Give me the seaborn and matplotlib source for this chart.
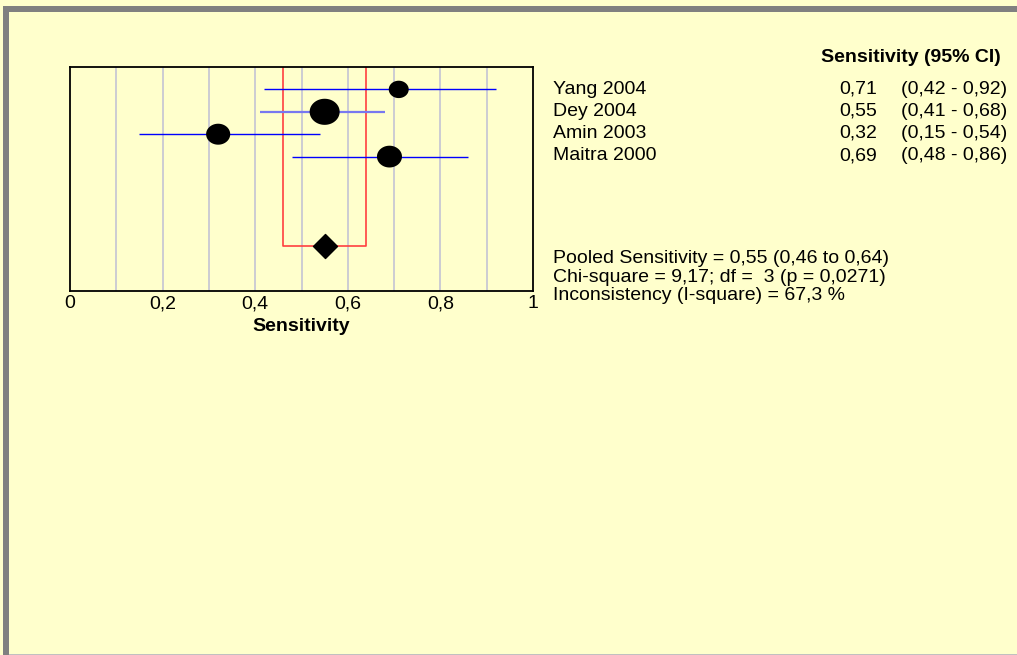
import matplotlib
matplotlib.use("Agg")
import matplotlib.pyplot as plt
import seaborn as sns
import pandas as pd
import numpy as np
from matplotlib.patches import Rectangle
from matplotlib.path import Path

# ---- data ----
studies = ["Yang 2004", "Dey 2004", "Amin 2003", "Maitra 2000"]
sens = [0.71, 0.55, 0.32, 0.69]
ci_low = [0.42, 0.41, 0.15, 0.48]
ci_high = [0.92, 0.68, 0.54, 0.86]
weights = [18, 40, 26, 28]
pooled = 0.55
pooled_low = 0.46
pooled_high = 0.64
stats_lines = ["Pooled Sensitivity = 0,55 (0,46 to 0,64)",
               "Chi-square = 9,17; df =  3 (p = 0,0271)",
               "Inconsistency (I-square) = 67,3 %"]
xticks = [0, 0.2, 0.4, 0.6, 0.8, 1.0]
xticklabels = ["0", "0,2", "0,4", "0,6", "0,8", "1"]

def fmt(v):
    return f"{v:.2f}".replace(".", ",")

W, H = 1017, 655
BG = "#FFFFCC"
sns.set_theme(style="white")
plt.rcParams['font.family'] = ['Liberation Sans', 'DejaVu Sans']
plt.rcParams['text.color'] = 'black'
plt.rcParams['xtick.color'] = 'black'
plt.rcParams['axes.labelcolor'] = 'black'

fig = plt.figure(figsize=(W / 100, H / 100), dpi=100, facecolor=BG)

def fx(px):
    return px / W

def fy(py):
    return 1 - py / H

ax = fig.add_axes([fx(70), fy(291), fx(533) - fx(70), fy(67) - fy(291)])
ax.set_facecolor(BG)

rows = list(range(1, len(studies) + 1))
pooled_row = 8

# ellipse marker (wider than tall)
t = np.linspace(0, 2 * np.pi, 60)
ell = Path(np.column_stack([np.cos(t), 0.87 * np.sin(t)]), closed=True)

# grid
for g in [0.1, 0.2, 0.3, 0.4, 0.5, 0.6, 0.7, 0.8, 0.9]:
    ax.axvline(g, color="#C4C4D4", lw=1.2, zorder=0)

# CI lines
for i, r in enumerate(rows):
    col = "#7878F0" if i == 1 else "#0000FF"
    lw = 1.6 if i == 1 else 1.0
    ax.hlines(r, ci_low[i], ci_high[i], color=col, lw=lw, zorder=2)

# pooled red box
ax.plot([pooled_low, pooled_low, pooled_high, pooled_high],
        [0, pooled_row, pooled_row, 0], color="#FF4040", lw=1.2, zorder=1)

df = pd.DataFrame({"study": studies, "sens": sens, "row": rows, "w": weights})
sns.scatterplot(data=df, x="sens", y="row", size="w", sizes=(207, 467),
                marker=ell, color="black", edgecolor="black", linewidth=0,
                legend=False, ax=ax, zorder=3)
sns.scatterplot(x=[pooled], y=[pooled_row], marker="D", s=150, color="black",
                edgecolor="black", ax=ax, zorder=3, legend=False)

ax.set_xlim(0, 1)
ax.set_ylim(10, 0)
ax.set_yticks([])
ax.set_xticks(xticks)
ax.set_xticklabels(xticklabels, fontsize=14)
ax.tick_params(axis="x", length=0, pad=3, colors="black")
ax.set_xlabel("Sensitivity", fontsize=14, fontweight="bold", labelpad=4)
ax.set_ylabel("")
for s in ax.spines.values():
    s.set_visible(True)
    s.set_color("black")
    s.set_linewidth(1.3)

# right-hand text
fs = 14
fig.text(fx(1001), fy(58), "Sensitivity (95% CI)", fontsize=fs, fontweight="bold",
         ha="right", va="center")
ys = [89, 111, 133, 156]
for i in range(len(studies)):
    fig.text(fx(553), fy(ys[i]), studies[i], fontsize=fs, ha="left", va="center")
    fig.text(fx(877), fy(ys[i]), fmt(sens[i]), fontsize=fs, ha="right", va="center")
    fig.text(fx(1007), fy(ys[i]), f"({fmt(ci_low[i])} - {fmt(ci_high[i])})",
             fontsize=fs, ha="right", va="center")
for j, line in enumerate(stats_lines):
    fig.text(fx(553), fy(259 + j * 18.5), line, fontsize=fs, ha="left", va="center")

# frame border
fig.add_artist(Rectangle((fx(3), fy(12)), 1 - fx(3), fy(6) - fy(12),
                         transform=fig.transFigure, color="#808080", lw=0))
fig.add_artist(Rectangle((fx(3), 0), fx(9) - fx(3), fy(6),
                         transform=fig.transFigure, color="#808080", lw=0))
fig.add_artist(Rectangle((fx(9), 0), 1 - fx(9), 1.5 / H,
                         transform=fig.transFigure, color="#C0C0C0", lw=0))

fig.savefig("out.png", dpi=100, facecolor=BG)
